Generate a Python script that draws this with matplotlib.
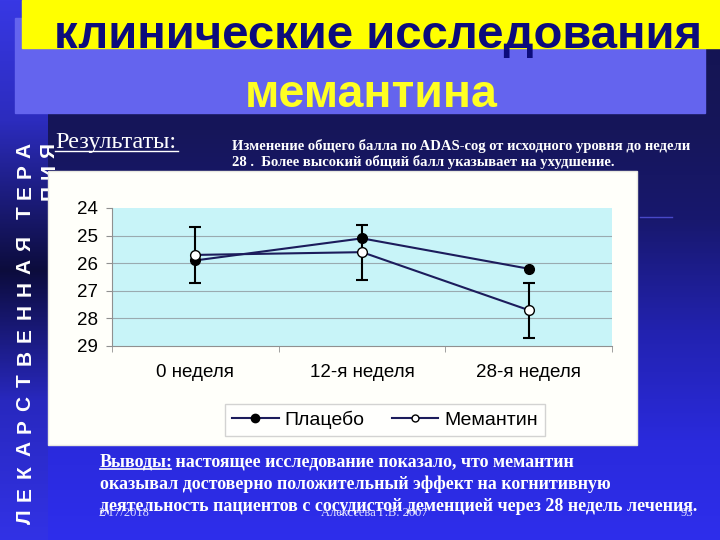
import numpy as np
import matplotlib.pyplot as plt
from matplotlib.patches import Rectangle
from matplotlib.lines import Line2D

# chart data (ADAS-cog total score, lower is better, axis inverted)
weeks = ['0 неделя', '12-я неделя', '28-я неделя']
placebo = [25.9, 25.1, 26.2]
memantine = [25.7, 25.6, 27.7]
memantine_err = [1.0, 1.0, 1.0]
y_ticks = [24, 25, 26, 27, 28, 29]

title_1 = 'клинические исследования'
title_2 = 'мемантина'
side_words = ['ЛЕКАРСТВЕННАЯ', 'ТЕРА']
results_label = 'Результаты:'
note_lines = ['Изменение общего балла по ADAS-cog от исходного уровня до недели',
              '28 .  Более высокий общий балл указывает на ухудшение.']
conclusion_head = 'Выводы:'
conclusion_lines = [' настоящее исследование показало, что мемантин',
                    'оказывал достоверно положительный эффект на когнитивную',
                    'деятельность пациентов с сосудистой деменцией через 28 недель лечения.']
footer = ['2/17/2018', 'Алексеева Г.В. 2007', '93']

W, H = 720, 540
fig = plt.figure(figsize=(7.2, 5.4), dpi=100)

# slide background in pixel coordinates
bg = fig.add_axes([0, 0, 1, 1])
bg.set_xlim(0, W)
bg.set_ylim(H, 0)
bg.axis('off')


def gradient(stops_y, stops_c):
    ys = np.arange(H)
    cols = np.array(stops_c) / 255.0
    return np.stack([np.interp(ys, stops_y, cols[:, k]) for k in range(3)], axis=1)


main = gradient([0, 130, 220, 330, 440, 540],
                [(20, 20, 80), (22, 22, 90), (24, 24, 110), (34, 34, 175), (42, 42, 220), (46, 46, 236)])
left = gradient([0, 120, 270, 400, 540],
                [(56, 56, 228), (44, 44, 190), (12, 12, 60), (40, 40, 190), (50, 50, 230)])
img = np.repeat(main[:, None, :], W, axis=1)
img[:, :48, :] = left[:, None, :]
bg.imshow(img, extent=(0, W, H, 0), aspect='auto', zorder=0)

# title boxes
bg.add_patch(Rectangle((15, 18), 690, 95, color='#6464ee', zorder=1))
bg.add_patch(Rectangle((22, 0), 698, 48, color='#ffff00', zorder=2))
bg.text(378, 48, title_1, ha='center', va='baseline', fontsize=34, fontweight='bold',
        family='Liberation Sans', color='#0c0c7c', zorder=3)
bg.text(371, 107, title_2, ha='center', va='baseline', fontsize=33.5, fontweight='bold',
        family='Liberation Sans', color='#ffff22', zorder=3)

# vertical side text, one letter at a time for the wide letter spacing
for i, ch in enumerate(side_words[0]):
    bg.text(25, 517 - i * 22.8, ch, rotation=90, ha='center', va='center', fontsize=15,
            fontweight='bold', family='Liberation Sans', color='white', zorder=3)
for i, ch in enumerate(side_words[1]):
    bg.text(25, 213 - i * 21, ch, rotation=90, ha='center', va='center', fontsize=15,
            fontweight='bold', family='Liberation Sans', color='white', zorder=3)
for i, ch in enumerate('ПИЯ'):
    bg.text(49, 193 - i * 21.5, ch, rotation=90, ha='center', va='center', fontsize=15,
            fontweight='bold', family='Liberation Sans', color='white', zorder=3)

# results heading and note
bg.text(55, 148, results_label, ha='left', va='baseline', fontsize=17.5,
        family='Liberation Serif', color='white', zorder=3)
bg.plot([55, 178], [151, 151], color='white', lw=1, zorder=3)
for i, line in enumerate(note_lines):
    bg.text(232, 150 + i * 16, line, ha='left', va='baseline', fontsize=10.5,
            fontweight='bold', family='Liberation Serif', color='white', zorder=3)
bg.plot([640, 672], [217, 217], color='#4848c8', lw=1, zorder=1)

# white chart panel
bg.add_patch(Rectangle((48, 171), 589, 274, facecolor='#fffffa', edgecolor='#e8e8e0', lw=1, zorder=4))

# conclusions and footer
fs = 13
bg.text(100, 466, conclusion_head, ha='left', va='baseline', fontsize=fs, fontweight='bold',
        family='Liberation Serif', color='white', zorder=5)
bg.plot([100, 171], [469, 469], color='white', lw=1.2, zorder=5)
bg.text(171, 466, conclusion_lines[0], ha='left', va='baseline', fontsize=fs, fontweight='bold',
        family='Liberation Serif', color='white', zorder=5)
for i, line in enumerate(conclusion_lines[1:]):
    bg.text(100, 489 + i * 22, line, ha='left', va='baseline', fontsize=fs, fontweight='bold',
            family='Liberation Serif', color='white', zorder=5)
bg.text(98, 516, footer[0], ha='left', va='baseline', fontsize=9,
        family='Liberation Serif', color='#e0e0ff', zorder=5)
bg.text(374, 516, footer[1], ha='center', va='baseline', fontsize=9,
        family='Liberation Serif', color='#e0e0ff', zorder=5)
bg.text(693, 516, footer[2], ha='right', va='baseline', fontsize=9,
        family='Liberation Serif', color='#e0e0ff', zorder=5)

# the chart itself
ax = fig.add_axes([112 / W, 1 - 346 / H, 500 / W, 138 / H])
ax.set_facecolor('#c8f4f8')
x = np.arange(len(weeks))
ax.set_xlim(-0.5, len(weeks) - 0.5)
ax.set_ylim(29, 24)
ax.set_yticks(y_ticks)
for yv in y_ticks[1:-1]:
    ax.axhline(yv, color='#9aaab0', lw=0.8, zorder=1)

line_col = '#1c1c5c'
ax.plot(x, placebo, color=line_col, lw=1.5, marker='o', ms=7, mfc='black', mec='black', zorder=3)
ax.errorbar(x, memantine, yerr=memantine_err, color=line_col, lw=1.5, marker='o', ms=7,
            mfc='white', mec='black', ecolor='black', elinewidth=1.5, capsize=4.5, capthick=1.5, zorder=4)

ax.set_xticks(x)
ax.set_xticklabels(weeks)
ax.set_xticks(np.arange(-0.5, len(weeks)), minor=True)
ax.tick_params(axis='x', which='major', length=0, pad=13, labelsize=13.5)
ax.tick_params(axis='x', which='minor', length=4, color='#909090')
ax.tick_params(axis='y', length=4, color='#909090', labelsize=13.5, pad=6)
for lab in ax.get_xticklabels() + ax.get_yticklabels():
    lab.set_family('Liberation Sans')
for side in ['top', 'right']:
    ax.spines[side].set_visible(False)
ax.spines['left'].set_color('#909090')
ax.spines['bottom'].set_color('#909090')

handles = [
    Line2D([], [], color=line_col, lw=1.5, marker='o', ms=6, mfc='black', mec='black'),
    Line2D([], [], color=line_col, lw=1.5, marker='o', ms=5, mfc='white', mec='black'),
]
leg = ax.legend(handles, ['Плацебо', 'Мемантин'], loc='center', bbox_to_anchor=(385 / W, 1 - 420 / H),
                bbox_transform=fig.transFigure, ncol=2, frameon=True, fancybox=False,
                prop={'family': 'Liberation Sans', 'size': 14}, handlelength=2.4,
                handletextpad=0.3, columnspacing=1.4, borderpad=0.35, edgecolor='#c8c8c8')
leg.get_frame().set_linewidth(1)

fig.savefig('out.png', dpi=100)
